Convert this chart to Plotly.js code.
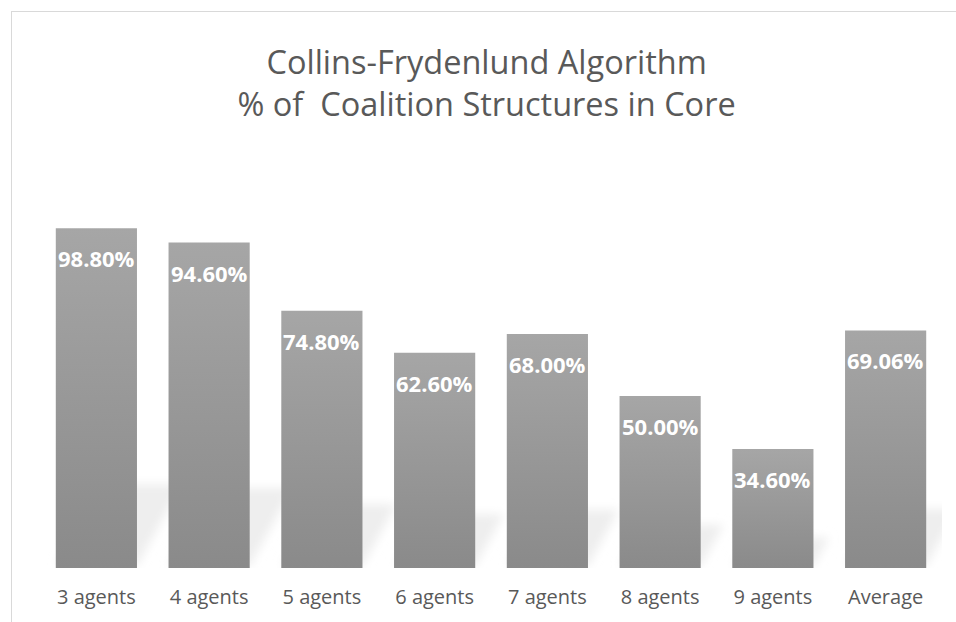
<!DOCTYPE html>
<html>
<head>
<meta charset="utf-8">
<script src="https://cdn.plot.ly/plotly-3.0.1.min.js"></script>
<style>
  html, body { margin: 0; padding: 0; background: #ffffff; }
  #wrap { position: relative; width: 956px; height: 622px; overflow: hidden; }
  #chart { width: 956px; height: 622px; }
  #frame { position: absolute; left: 11px; top: 11px; width: 1000px; height: 700px;
           border-left: 1px solid #d9d9d9; border-top: 1px solid #d9d9d9; pointer-events: none; }
</style>
</head>
<body>
<div id="wrap"><div id="chart"></div><div id="frame"></div></div>
<script>
const categories = ["3 agents", "4 agents", "5 agents", "6 agents", "7 agents", "8 agents", "9 agents", "Average"];
const values = [98.80, 94.60, 74.80, 62.60, 68.00, 50.00, 34.60, 69.06];
const valueLabels = ["98.80%", "94.60%", "74.80%", "62.60%", "68.00%", "50.00%", "34.60%", "69.06%"];

const trace = {
  type: "bar",
  x: categories,
  y: values,
  marker: { color: "#999999", line: { width: 0 } },
  hoverinfo: "skip"
};

const annotations = categories.map((c, i) => ({
  x: c, y: values[i], xref: "x", yref: "y",
  text: "<b>" + valueLabels[i] + "</b>",
  showarrow: false, yanchor: "middle", yshift: -30,
  font: { family: "Open Sans, sans-serif", size: 22, color: "#ffffff" }
}));

const layout = {
  width: 956, height: 622,
  margin: { l: 40, r: 14, t: 224, b: 54 },
  paper_bgcolor: "#ffffff", plot_bgcolor: "#ffffff",
  showlegend: false,
  bargap: 0.28,
  title: {
    text: "Collins-Frydenlund Algorithm<br>% of  Coalition Structures in Core",
    x: 0.509, xref: "container", xanchor: "center",
    y: 0.881, yref: "container", yanchor: "middle",
    font: { family: "Open Sans, sans-serif", size: 32.5, color: "#595959" }
  },
  xaxis: {
    type: "category", showgrid: false, zeroline: false, showline: false, ticks: "",
    tickfont: { family: "Open Sans, sans-serif", size: 20, color: "#595959" },
    ticklabelstandoff: 15
  },
  yaxis: { range: [0, 100], visible: false, showgrid: false, zeroline: false },
  annotations: annotations
};

Plotly.newPlot("chart", [trace], layout, { displayModeBar: false, staticPlot: true }).then(() => {
  const svg = document.querySelector("#chart svg.main-svg");
  const ns = "http://www.w3.org/2000/svg";
  let defs = svg.querySelector("defs");
  if (!defs) { defs = document.createElementNS(ns, "defs"); svg.insertBefore(defs, svg.firstChild); }
  const g = document.createElementNS(ns, "linearGradient");
  g.setAttribute("id", "barGrad");
  g.setAttribute("x1", "0"); g.setAttribute("y1", "0"); g.setAttribute("x2", "0"); g.setAttribute("y2", "1");
  const s1 = document.createElementNS(ns, "stop"); s1.setAttribute("offset", "0"); s1.setAttribute("stop-color", "#a6a6a6");
  const s2 = document.createElementNS(ns, "stop"); s2.setAttribute("offset", "1"); s2.setAttribute("stop-color", "#8a8a8a");
  g.appendChild(s1); g.appendChild(s2); defs.appendChild(g);

  const f = document.createElementNS(ns, "filter");
  f.setAttribute("id", "shadowBlur");
  f.setAttribute("x", "-50%"); f.setAttribute("y", "-50%"); f.setAttribute("width", "200%"); f.setAttribute("height", "200%");
  const blur = document.createElementNS(ns, "feGaussianBlur");
  blur.setAttribute("stdDeviation", "5");
  f.appendChild(blur); defs.appendChild(f);

  const paths = document.querySelectorAll("#chart .bars .point path");
  paths.forEach(p => {
    const bb = p.getBBox();
    const h = bb.height * 0.24;
    const dx = h * 0.55;
    const bottom = bb.y + bb.height - 2;
    const poly = document.createElementNS(ns, "polygon");
    poly.setAttribute("points", [
      [bb.x, bottom], [bb.x + bb.width, bottom],
      [bb.x + bb.width + dx, bottom - h], [bb.x + dx, bottom - h]
    ].map(q => q.join(",")).join(" "));
    poly.setAttribute("fill", "#eeeeee");
    poly.setAttribute("filter", "url(#shadowBlur)");
    const pt = p.parentNode;
    pt.parentNode.insertBefore(poly, pt.parentNode.firstChild);
  });
  paths.forEach(p => { p.style.fill = "url(#barGrad)"; });
});
</script>
</body>
</html>
